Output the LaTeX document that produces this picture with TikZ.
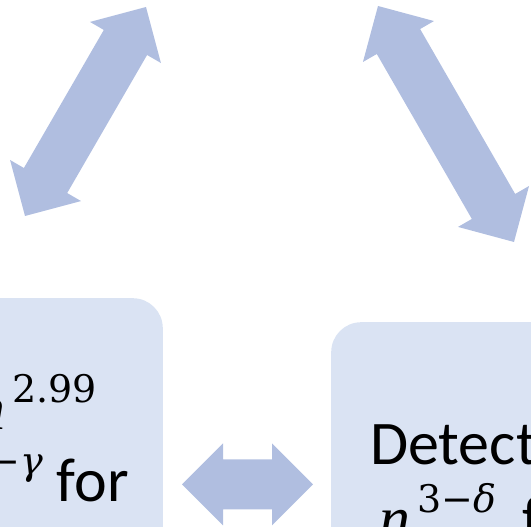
\documentclass[tikz,border=0pt]{standalone}
\usepackage{fontspec}
\setmainfont{Carlito}
\newfontfamily\mfont{Liberation Serif}
\newfontfamily\efont{DejaVu Serif}
\usepackage{tikz}
\usetikzlibrary{calc}
\definecolor{boxblue}{RGB}{218,227,243}
\definecolor{arrowblue}{RGB}{176,190,224}
\tikzset{
  card/.style={fill=boxblue, rounded corners=30pt, inner sep=0pt},
  bigarrow/.style={fill=arrowblue},
  bigtext/.style={font=\fontsize{62}{74}\selectfont, inner sep=0pt}
}
% n with a raised exponent
\newcommand{\npow}[1]{{\mfont\itshape n}\kern7pt\raisebox{27pt}{\fontsize{38}{46}\selectfont\efont #1}}
% double block arrow from tip #1 to tip #2
\newcommand{\blockarrow}[2]{%
  \path let \p1=($(#2)-(#1)$) in \pgfextra{\pgfmathsetmacro\barang{atan2(\y1,\x1)}\pgfmathsetmacro\barlen{veclen(\x1,\y1)}\xdef\barang{\barang}\xdef\barlen{\barlen}};
  \fill[bigarrow, shift={(#1)}, rotate=\barang] (0,0) -- (41,41) -- (41,25) -- (\barlen-41,25) -- (\barlen-41,41) -- (\barlen,0)
     -- (\barlen-41,-41) -- (\barlen-41,-25) -- (41,-25) -- (41,-41) -- cycle;
}
\begin{document}
\begin{tikzpicture}[x=1pt,y=1pt]
\useasboundingbox (0,0) rectangle (531,527);
\clip (0,0) rectangle (531,527);
\node[card, minimum width=223pt, minimum height=269pt, anchor=north east] (faster) at (163,229) {};
\node[card, minimum width=290pt, minimum height=245pt, anchor=north west] (detect) at (331,205) {};
\node[bigtext, anchor=base east] (fastA) at (97,97) {\npow{2.99}};
\node[bigtext, anchor=base east] (fastB) at (129,25) {\npow{3−{\itshape γ}} for};
\node[bigtext, anchor=base west] (detA) at (370,62) {Detect};
\node[bigtext, anchor=base west] (detB) at (379,-13) {\npow{3−{\itshape δ}}\kern12pt{} f};
\coordinate (hl) at (182,42.5);	% between the boxes
\coordinate (hr) at (313,42.5);
\coordinate (ll) at (25,311);	% up to the left
\coordinate (lu) at (146,520);
\coordinate (ru) at (378,521);	% up to the right
\coordinate (rl) at (514,285);
\blockarrow{hl}{hr}
\blockarrow{ll}{lu}
\blockarrow{ru}{rl}
\end{tikzpicture}
\end{document}
